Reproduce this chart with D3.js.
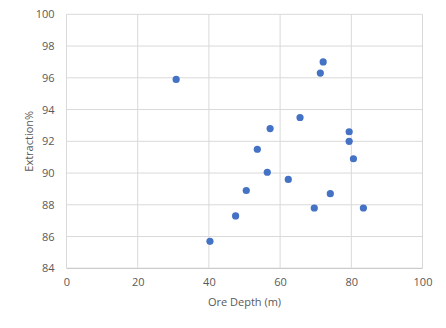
<!DOCTYPE html>
<html><head><meta charset="utf-8">
<script src="https://cdn.jsdelivr.net/npm/d3@7"></script>
<style>html,body{margin:0;padding:0;background:#fff;}svg{display:block;}</style>
</head><body>
<script>
const oreDepth = [30.8, 72.1, 71.3, 65.6, 57.2, 53.6, 56.4, 62.3, 50.5, 47.5, 79.4, 79.4, 80.6, 74.1, 69.6, 83.4, 40.3];
const extraction = [95.9, 97.0, 96.3, 93.5, 92.8, 91.5, 90.05, 89.6, 88.9, 87.3, 92.6, 92.0, 90.9, 88.7, 87.8, 87.8, 85.7];
const xTicks = [0, 20, 40, 60, 80, 100];
const yTicks = [84, 86, 88, 90, 92, 94, 96, 98, 100];
const xTitle = "Ore Depth (m)";
const yTitle = "Extraction%";

const W = 446, H = 328;
const svg = d3.select("body").append("svg").attr("width", W).attr("height", H);
const x = d3.scaleLinear().domain([0, 100]).range([66.5, 422.5]);
const y = d3.scaleLinear().domain([84, 100]).range([268.3, 14.3]);
const font = "'Open Sans', 'Liberation Sans', sans-serif";

const grid = svg.append("g");
grid.selectAll(".gy").data(yTicks).join("line")
  .attr("x1", x(0)).attr("x2", x(100))
  .attr("y1", d => y(d)).attr("y2", d => y(d))
  .attr("stroke", d => d === 84 ? "#bfbfbf" : "#d9d9d9").attr("stroke-width", 1);
grid.selectAll(".gx").data(xTicks).join("line")
  .attr("y1", y(84)).attr("y2", y(100))
  .attr("x1", d => x(d)).attr("x2", d => x(d))
  .attr("stroke", "#d9d9d9").attr("stroke-width", 1);

const yAxis = d3.axisLeft(y).tickValues(yTicks).tickSize(0).tickPadding(12);
svg.append("g").attr("transform", `translate(${x(0)},0)`).call(yAxis)
  .call(g => g.select(".domain").remove())
  .call(g => g.selectAll("text").attr("fill", "#595959").style("font-family", font).style("font-size", "11px"));
const xAxis = d3.axisBottom(x).tickValues(xTicks).tickSize(0).tickPadding(10);
svg.append("g").attr("transform", `translate(0,${y(84)})`).call(xAxis)
  .call(g => g.select(".domain").remove())
  .call(g => g.selectAll("text").attr("fill", "#595959").style("font-family", font).style("font-size", "11px"));

svg.append("g").selectAll("circle").data(oreDepth.map((d, i) => [d, extraction[i]])).join("circle")
  .attr("cx", d => x(d[0])).attr("cy", d => y(d[1])).attr("r", 3.6)
  .attr("fill", "#4472c4");

svg.append("text").attr("x", (x(0) + x(100)) / 2).attr("y", 306)
  .attr("text-anchor", "middle").attr("fill", "#595959")
  .style("font-family", font).style("font-size", "11px").text(xTitle);
svg.append("text").attr("transform", `translate(33,${(y(84) + y(100)) / 2}) rotate(-90)`)
  .attr("text-anchor", "middle").attr("fill", "#595959")
  .style("font-family", font).style("font-size", "11px").text(yTitle);
</script>
</body></html>
